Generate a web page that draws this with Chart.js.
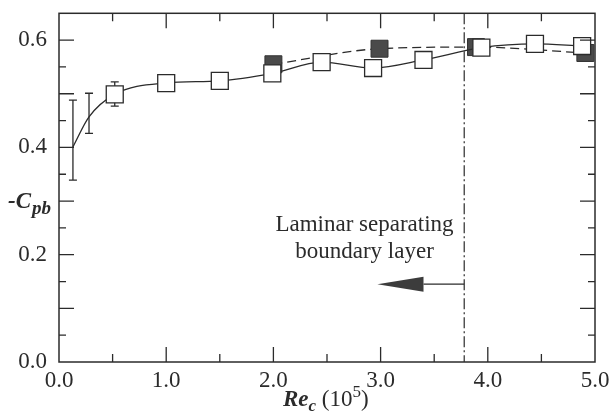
<!DOCTYPE html>
<html>
<head>
<meta charset="utf-8">
<script src="https://cdn.jsdelivr.net/npm/chart.js@4.4.0/dist/chart.umd.min.js"></script>
<style>
  html, body { margin: 0; padding: 0; background: #fff; }
  #wrap { width: 611px; height: 413px; }
</style>
</head>
<body>
<div id="wrap"><canvas id="cpbChart" width="611" height="413"></canvas></div>
<script>
// open squares, solid line (first two points carry only the curve + error bars)
const openRe     = [0.13, 0.28, 0.52, 1.00, 1.50, 1.99, 2.45, 2.93, 3.40, 3.94, 4.44, 4.88];
const openCpb    = [0.401, 0.457, 0.499, 0.520, 0.524, 0.538, 0.559, 0.548, 0.563, 0.586, 0.593, 0.589];
const openMarker = [false, false, true, true, true, true, true, true, true, true, true, true];

// filled squares, dashed line
const filledRe  = [2.00, 2.99, 3.89, 4.91];
const filledCpb = [0.555, 0.584, 0.587, 0.576];

// error bars at low Re
const errRe   = [0.13, 0.28, 0.52];
const errLow  = [0.339, 0.426, 0.477];
const errHigh = [0.488, 0.501, 0.522];

// tick labels
const xTickLabels = ['0.0', '1.0', '2.0', '3.0', '4.0', '5.0'];
const yTickLabels = ['0.0', '0.2', '0.4', '0.6'];

// annotation
const transitionRe = 3.78;
const arrowTail = 3.78, arrowHead = 3.40, arrowTip = 2.97, arrowCpb = 0.145;
const noteLines = ['Laminar separating', 'boundary layer'];

const ink = '#2b2b2b';
const serif = '"Liberation Serif", "DejaVu Serif", serif';

function pts(xs, ys) {
  return xs.map((x, i) => ({ x: x, y: ys[i] }));
}

const annotatePlugin = {
  id: 'annotate',
  beforeDatasetsDraw(chart) {
    // error bars sit behind the squares
    const { ctx, scales: { x, y } } = chart;
    ctx.save();
    ctx.strokeStyle = ink;
    ctx.lineWidth = 1.3;
    errRe.forEach((r, i) => {
      const px = x.getPixelForValue(r);
      const top = y.getPixelForValue(errHigh[i]);
      const bot = y.getPixelForValue(errLow[i]);
      ctx.beginPath();
      ctx.moveTo(px, top); ctx.lineTo(px, bot);
      ctx.moveTo(px - 4, top); ctx.lineTo(px + 4, top);
      ctx.moveTo(px - 4, bot); ctx.lineTo(px + 4, bot);
      ctx.stroke();
    });
    ctx.restore();
  },
  afterDraw(chart) {
    const { ctx, chartArea: a, scales: { x, y } } = chart;
    ctx.save();
    ctx.strokeStyle = ink;
    ctx.fillStyle = ink;

    // frame
    ctx.lineWidth = 1.5;
    ctx.strokeRect(a.left, a.top, a.right - a.left, a.bottom - a.top);

    // inward ticks on all four sides
    ctx.lineWidth = 1.3;
    ctx.beginPath();
    for (let k = 1; k < 10; k++) {
      const px = x.getPixelForValue(k * 0.5);
      const len = k % 2 === 0 ? 15 : 8;
      ctx.moveTo(px, a.bottom); ctx.lineTo(px, a.bottom - len);
      ctx.moveTo(px, a.top); ctx.lineTo(px, a.top + len);
    }
    for (let k = 1; k < 13; k++) {
      const py = y.getPixelForValue(k * 0.05);
      const len = k % 2 === 0 ? 15 : 7;
      ctx.moveTo(a.left, py); ctx.lineTo(a.left + len, py);
      ctx.moveTo(a.right, py); ctx.lineTo(a.right - len, py);
    }
    ctx.stroke();

    // transition line (dash-dot)
    const tx = x.getPixelForValue(transitionRe);
    ctx.lineWidth = 1.2;
    ctx.setLineDash([11, 3, 2, 3]);
    ctx.beginPath();
    ctx.moveTo(tx, a.top); ctx.lineTo(tx, a.bottom);
    ctx.stroke();
    ctx.setLineDash([]);

    // arrow
    const ay = y.getPixelForValue(arrowCpb);
    const hx = x.getPixelForValue(arrowHead);
    ctx.lineWidth = 1.3;
    ctx.beginPath();
    ctx.moveTo(x.getPixelForValue(arrowTail), ay); ctx.lineTo(hx, ay);
    ctx.stroke();
    ctx.fillStyle = '#3c3c3c';
    ctx.beginPath();
    ctx.moveTo(x.getPixelForValue(arrowTip), ay);
    ctx.lineTo(hx, ay - 7.5);
    ctx.lineTo(hx, ay + 7.5);
    ctx.closePath();
    ctx.fill();

    // note text
    ctx.fillStyle = ink;
    ctx.font = '23px ' + serif;
    ctx.textAlign = 'center';
    ctx.textBaseline = 'alphabetic';
    const nx = x.getPixelForValue(2.85);
    ctx.fillText(noteLines[0], nx, 231);
    ctx.fillText(noteLines[1], nx, 258);

    // y title: -C_pb
    ctx.textAlign = 'left';
    ctx.font = 'italic bold 23px ' + serif;
    ctx.fillText('-C', 8, 208);
    let w = ctx.measureText('-C').width;
    ctx.font = 'italic bold 19px ' + serif;
    ctx.fillText('pb', 8 + w + 1, 214);

    // x title: Re_c (10^5)
    let cx = 283;
    const base = 406;
    ctx.font = 'italic bold 23px ' + serif;
    ctx.fillText('Re', cx, base);
    cx += ctx.measureText('Re').width;
    ctx.font = 'italic bold 17px ' + serif;
    ctx.fillText('c', cx, base + 5);
    cx += ctx.measureText('c').width;
    ctx.font = '23px ' + serif;
    ctx.fillText(' (10', cx, base);
    cx += ctx.measureText(' (10').width;
    ctx.font = '17px ' + serif;
    ctx.fillText('5', cx, base - 9);
    cx += ctx.measureText('5').width;
    ctx.font = '23px ' + serif;
    ctx.fillText(')', cx, base);

    ctx.restore();
  }
};

const ctx = document.getElementById('cpbChart').getContext('2d');
const cpbChart = new Chart(ctx, {
  type: 'scatter',
  data: {
    datasets: [
      {
        data: pts(openRe, openCpb),
        showLine: true,
        borderColor: ink,
        borderWidth: 1.3,
        cubicInterpolationMode: 'monotone',
        pointStyle: 'rect',
        pointRadius: openMarker.map(m => m ? 12 : 0),
        pointBackgroundColor: '#ffffff',
        pointBorderColor: ink,
        pointBorderWidth: 1.3,
        clip: false
      },
      {
        data: pts(filledRe, filledCpb),
        showLine: true,
        borderColor: ink,
        borderWidth: 1.3,
        borderDash: [9, 5],
        cubicInterpolationMode: 'monotone',
        pointStyle: 'rect',
        pointRadius: 12,
        pointBackgroundColor: '#4a4a4a',
        pointBorderColor: '#333333',
        pointBorderWidth: 1,
        clip: false
      }
    ]
  },
  options: {
    responsive: false,
    animation: false,
    layout: { padding: { left: 0, top: 13, right: 16, bottom: 0 } },
    plugins: { legend: { display: false }, tooltip: { enabled: false } },
    scales: {
      x: {
        type: 'linear',
        min: 0, max: 5,
        afterFit(scale) {
          scale.height = 51;
          scale.paddingLeft = 0;
          scale.paddingRight = 0;
        },
        grid: { display: false },
        border: { display: false },
        ticks: {
          stepSize: 0.5,
          autoSkip: false,
          maxRotation: 0,
          padding: -3,
          color: ink,
          font: { family: serif, size: 23 },
          callback: v => {
            const i = Math.round(v);
            return Math.abs(v - i) < 1e-6 ? xTickLabels[i] : '';
          }
        }
      },
      y: {
        type: 'linear',
        min: 0, max: 0.65,
        afterFit(scale) {
          scale.width = 59;
          scale.paddingTop = 0;
          scale.paddingBottom = 0;
        },
        grid: { display: false },
        border: { display: false },
        ticks: {
          stepSize: 0.05,
          autoSkip: false,
          padding: 4,
          color: ink,
          font: { family: serif, size: 23 },
          callback: v => {
            const i = Math.round(v / 0.2);
            return Math.abs(v - i * 0.2) < 1e-6 ? yTickLabels[i] : '';
          }
        }
      }
    }
  },
  plugins: [annotatePlugin]
});
</script>
</body>
</html>
